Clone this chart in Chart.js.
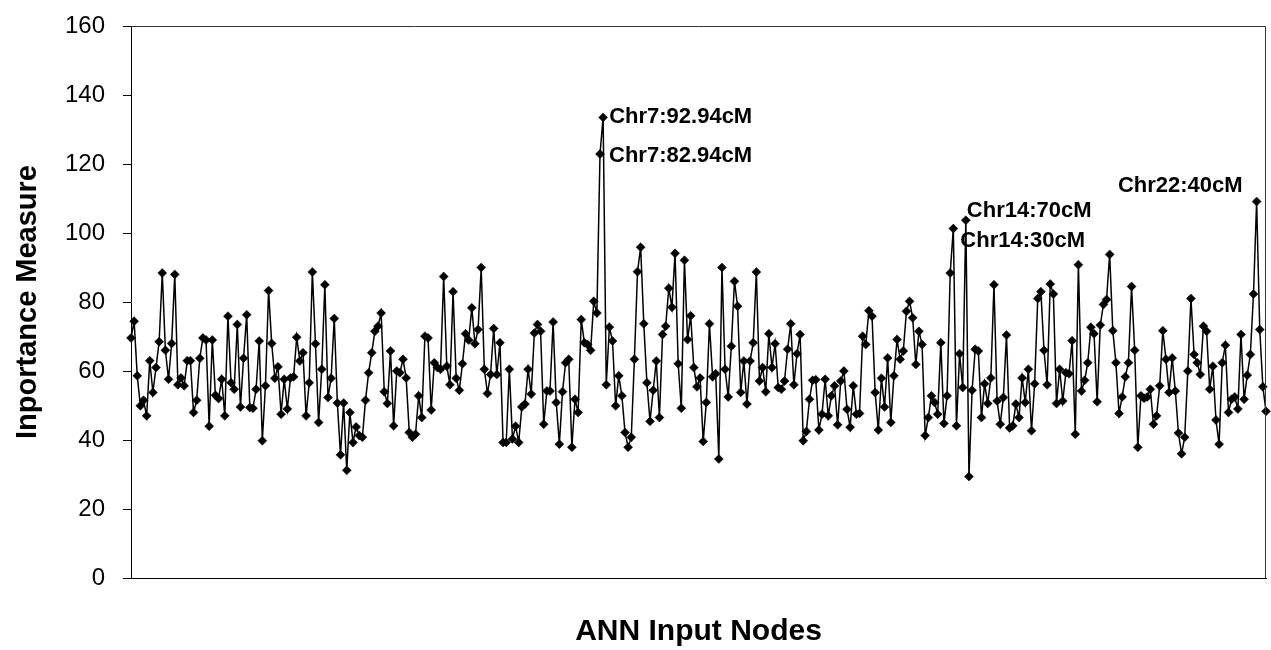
<!DOCTYPE html>
<html>
<head>
<meta charset="utf-8">
<script src="https://cdn.jsdelivr.net/npm/chart.js@4/dist/chart.umd.min.js"></script>
<style>
  html, body { margin: 0; padding: 0; background: #fff; }
  #wrap { width: 1271px; height: 650px; }
</style>
</head>
<body>
<div id="wrap"><canvas id="nodesChart"></canvas></div>
<script>
// importance measure per ANN input node, read left to right
const importance = [
  69.6, 74.4, 58.6, 49.9, 51.5, 47, 63, 53.8, 61, 68.5, 88.4, 66, 57.6, 68, 88, 56, 58, 55.7, 63, 63,
  48, 51.5, 63.7, 69.6, 69, 44, 69, 53, 52, 57.6, 47,
  75.9, 56.6, 54.7, 73.5, 49.6, 63.7, 76.3, 49.4, 49.2, 54.7, 68.7, 39.8, 55.7, 83.3, 68, 57.9, 61.2, 47.5, 57.6, 49,
  58, 58.3, 69.8, 62.9, 65.3, 47, 56.6, 88.7, 67.9, 45.1,
  60.5, 85, 52.3, 57.9, 75.2, 50.7, 35.7, 50.7, 31.2, 48, 39.3, 43.8, 41.3, 40.8, 51.5, 59.5, 65.3, 71.5, 73, 76.8,
  54, 50.6, 65.8, 44.1, 60, 59.5, 63.4, 58, 42.2, 40.8, 41.7, 52.8,
  46.5, 70.1, 69.6, 48.7, 62.4, 61, 60.5, 87.4, 61.4, 56, 83, 57.9, 54.4, 62.1, 70.8, 69, 78.3, 67.9, 72, 90,
  60.5, 53.5, 59, 72.3, 59, 68.2, 39.3, 39.3, 60.5,
  40.3, 44, 39.3, 49.6, 50.4, 60.5, 53.3, 71, 73.5, 71.5, 44.6, 54.2, 54.2, 74.2, 50.9, 38.8, 54, 62.4, 63.4, 37.9,
  51.8, 48, 74.9, 68.2, 67.7, 66, 80.2, 76.8, 122.9, 133.5,
  56, 72.7, 68.7, 49.9, 58.6, 52.8, 42.2, 37.9, 40.8, 63.4, 88.8, 95.9, 73.7, 56.6, 45.4, 54.4, 62.9, 46.5, 70.6, 73,
  84, 78.5, 94.1, 62.1, 49.2, 92.1, 69.1, 76, 61, 55.4, 58,
  39.6, 50.9, 73.7, 58.3, 59.2, 34.5, 90, 60.5, 52.5, 67.2, 86, 78.8, 53.8, 62.9, 50.4, 62.9, 68.2, 88.7, 57.1, 61,
  54, 70.8, 61, 67.9, 55.2, 54.7, 57.1, 66.3, 73.7, 56,
  65, 70.6, 39.8, 42.5, 51.8, 57.3, 57.5, 42.9, 47.5, 57.6, 47, 52.8, 55.7, 44.4, 57.1, 60, 48.9, 43.7, 55.7, 47.5,
  47.7, 70.1, 67.7, 77.5, 75.9, 53.8, 42.9, 57.9, 49.6, 63.8,
  45.1, 58.6, 69.1, 63.4, 65.8, 77.3, 80.2, 75.4, 61.9, 71.5, 67.7, 41.3, 46.5, 52.8, 50.9, 47.5, 68.2, 44.8, 52.8, 88.4,
  101.3, 44.1, 65, 55.2, 103.7, 29.4, 54.4, 66.3, 65.8, 46.5,
  56.3, 50.6, 58, 85, 51.3, 44.6, 52.3, 70.4, 43.5, 44.1, 50.4, 46.5, 58, 50.9, 60.5, 42.7, 56.3, 81, 83, 66,
  56, 85.2, 82.3, 50.6, 60.5, 51.3, 59.5, 59.2, 68.8, 41.7, 90.8,
  54.2, 57.3, 62.4, 72.7, 70.8, 51.1, 73.3, 79.3, 80.7, 93.8, 71.7, 62.4, 47.7, 52.5, 58.3, 62.4, 84.5, 66, 37.9, 52.8,
  52.1, 52.5, 54.7, 44.6, 47, 55.7, 71.7, 63.4, 53.8, 63.8,
  54.2, 42, 36, 40.8, 60, 81, 64.8, 62.4, 59, 73, 71.5, 54.7, 61.4, 45.8, 38.8, 62.4, 67.5, 48, 51.8, 52.5,
  49, 70.6, 51.8, 58.8, 64.8, 82.3, 109.1, 72, 55.4, 48.3
];

// node numbers on the x axis (no tick labels shown)
const nodes = importance.map((v, i) => i + 1);

// y axis ticks
const yMin = 0;
const yMax = 160;
const yStep = 20;

// labelled peaks: node index, label text
const peakIndex = [151, 150, 267, 263, 360];
const peakText = ["Chr7:92.94cM", "Chr7:82.94cM", "Chr14:70cM", "Chr14:30cM", "Chr22:40cM"];
// label placement relative to the marked point
const peakOffset = [[6, 0, "left"], [9, 2, "left"], [1, -9, "left"], [7, 12, "left"], [-14, -16, "right"]];

const FONT = "'Liberation Sans', Arial, sans-serif";

// ------------------ Peak labels + frame ------------------
const peakLabels = {
  id: "peakLabels",
  afterDatasetsDraw(chart) {
    const { ctx } = chart;
    const meta = chart.getDatasetMeta(0);
    ctx.save();
    ctx.font = "bold 22px " + FONT;
    ctx.fillStyle = "#000";
    ctx.textBaseline = "middle";
    peakIndex.forEach((idx, k) => {
      const pt = meta.data[idx];
      if (!pt) return;
      const [dx, dy, align] = peakOffset[k];
      ctx.textAlign = align;
      ctx.fillText(peakText[k], pt.x + dx, pt.y + dy);
    });
    ctx.restore();
  },
  afterDraw(chart) {
    const { ctx, chartArea: a } = chart;
    ctx.save();
    ctx.strokeStyle = "#333";
    ctx.lineWidth = 1;
    ctx.beginPath();
    ctx.moveTo(a.left, a.top + 0.5);
    ctx.lineTo(a.right - 0.5, a.top + 0.5);
    ctx.lineTo(a.right - 0.5, a.bottom);
    ctx.stroke();
    ctx.restore();
  }
};

const ctx = document.getElementById("nodesChart").getContext("2d");

new Chart(ctx, {
  type: "line",
  data: {
    labels: nodes,
    datasets: [{
      data: importance,
      borderColor: "#000",
      borderWidth: 1.5,
      backgroundColor: "#000",
      pointStyle: "rectRot",
      pointRadius: 4.5,
      pointBorderWidth: 0.5,
      pointBackgroundColor: "#000",
      tension: 0,
      clip: false
    }]
  },
  options: {
    responsive: true,
    maintainAspectRatio: false,
    animation: false,
    layout: {
      padding: { top: 26, right: 3, left: 0, bottom: 0 }
    },
    plugins: {
      legend: { display: false },
      tooltip: { enabled: false }
    },
    scales: {
      x: {
        type: "category",
        offset: false,
        ticks: { display: false },
        grid: { display: false },
        border: { display: true, color: "#000", width: 1 },
        title: {
          display: true,
          text: "ANN Input Nodes",
          color: "#000",
          font: { family: FONT, size: 30, weight: "bold" },
          padding: { top: 0, bottom: 0 }
        },
        afterFit(scale) {
          scale.height = 72;
          scale.paddingLeft = 0;
          scale.paddingRight = 0;
        }
      },
      y: {
        min: yMin,
        max: yMax,
        ticks: {
          stepSize: yStep,
          color: "#000",
          padding: 18,
          font: { family: FONT, size: 24 }
        },
        grid: {
          display: true,
          drawOnChartArea: false,
          drawTicks: true,
          tickLength: 8,
          color: "#000"
        },
        border: { display: true, color: "#000", width: 1 },
        title: {
          display: true,
          text: "Inportance Measure",
          color: "#000",
          font: { family: FONT, size: 29, weight: "bold" },
          padding: { top: 11, bottom: 0 }
        },
        afterFit(scale) {
          scale.width = 131;
          scale.paddingTop = 0;
          scale.paddingBottom = 0;
        }
      }
    }
  },
  plugins: [peakLabels]
});
</script>
</body>
</html>
